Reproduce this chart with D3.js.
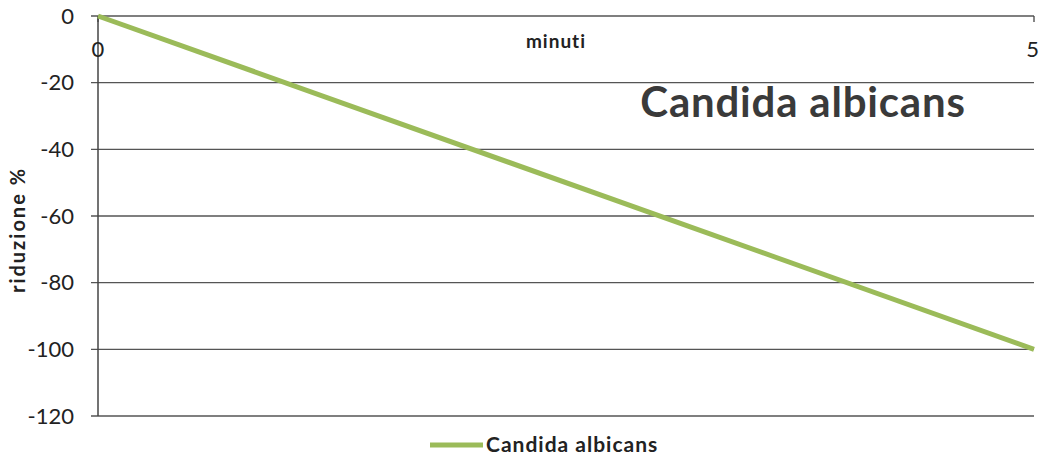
<!DOCTYPE html>
<html>
<head>
<meta charset="utf-8">
<script src="https://cdn.jsdelivr.net/npm/d3@7"></script>
<style>
  body { margin: 0; background: #fff; }
  svg text { font-family: Lato, "Open Sans", sans-serif; }
</style>
</head>
<body>
<div id="chart"></div>
<script>
	var seriesName = "Candida albicans";
	var minutes = [0, 5];
	var reduction = [0, -100];
	var yTicks = [0, -20, -40, -60, -80, -100, -120];
	var xTicks = [0, 5];

	var width = 1042,
		height = 459,
		margin = {top: 16, right: 8, bottom: 43, left: 98};

	var svg = d3.select("#chart").append("svg")
		.attr("width", width)
		.attr("height", height);

	var x = d3.scaleLinear().domain([0, 5]).range([margin.left, width - margin.right]);
	var y = d3.scaleLinear().domain([0, -120]).range([margin.top, height - margin.bottom]);

	// horizontal gridlines with tick stubs on the left
	svg.append("g").selectAll("line")
		.data(yTicks)
		.enter().append("line")
			.attr("x1", margin.left - 7)
			.attr("x2", x(5))
			.attr("y1", function(d) { return y(d); })
			.attr("y2", function(d) { return y(d); })
			.attr("stroke", "#555")
			.attr("stroke-width", 1.3);

	// y axis line
	svg.append("line")
		.attr("x1", x(0)).attr("x2", x(0))
		.attr("y1", y(0)).attr("y2", y(-120))
		.attr("stroke", "#444")
		.attr("stroke-width", 1.5);

	// x tick marks on the 0 line
	svg.append("g").selectAll("line")
		.data(xTicks)
		.enter().append("line")
			.attr("x1", function(d) { return x(d); })
			.attr("x2", function(d) { return x(d); })
			.attr("y1", y(0))
			.attr("y2", y(0) + 6)
			.attr("stroke", "#444")
			.attr("stroke-width", 1.3);

	// y tick labels
	svg.append("g").selectAll("text")
		.data(yTicks)
		.enter().append("text")
			.attr("x", 74)
			.attr("y", function(d) { return y(d); })
			.attr("dy", "0.35em")
			.attr("text-anchor", "end")
			.attr("font-size", 22)
			.attr("fill", "#222")
			.text(function(d) { return d; });

	// x tick labels
	svg.append("g").selectAll("text")
		.data(xTicks)
		.enter().append("text")
			.attr("x", function(d) { return x(d); })
			.attr("y", 57)
			.attr("text-anchor", function(d) { return d === 0 ? "middle" : "end"; })
			.attr("dx", function(d) { return d === 0 ? 0 : 5; })
			.attr("font-size", 22)
			.attr("fill", "#222")
			.text(function(d) { return d; });

	// axis titles
	svg.append("text")
		.attr("x", 556)
		.attr("y", 48)
		.attr("text-anchor", "middle")
		.attr("font-size", 19)
		.attr("font-weight", "bold")
		.attr("letter-spacing", 1)
		.attr("fill", "#222")
		.text("minuti");

	svg.append("text")
		.attr("transform", "translate(25,230) rotate(-90)")
		.attr("text-anchor", "middle")
		.attr("font-size", 20)
		.attr("font-weight", "bold")
		.attr("letter-spacing", 2)
		.attr("fill", "#222")
		.text("riduzione %");

	// chart title
	svg.append("text")
		.attr("x", 803)
		.attr("y", 117)
		.attr("text-anchor", "middle")
		.attr("font-size", 42)
		.attr("font-weight", "bold")
		.attr("letter-spacing", 0.8)
		.attr("fill", "#3a3a3a")
		.text(seriesName);

	// series line
	var pts = minutes.map(function(m, i) { return [m, reduction[i]]; });
	svg.append("path")
		.datum(pts)
		.attr("fill", "none")
		.attr("stroke", "#9bbb59")
		.attr("stroke-width", 5)
		.attr("d", d3.line()
			.x(function(d) { return x(d[0]); })
			.y(function(d) { return y(d[1]); }));

	// legend
	var legend = svg.append("g").attr("transform", "translate(430,445)");
	legend.append("line")
		.attr("x1", 0).attr("x2", 53)
		.attr("y1", 0).attr("y2", 0)
		.attr("stroke", "#9bbb59")
		.attr("stroke-width", 5);
	legend.append("text")
		.attr("x", 56)
		.attr("y", 0)
		.attr("dy", "0.35em")
		.attr("font-size", 21)
		.attr("font-weight", "bold")
		.attr("letter-spacing", 1)
		.attr("fill", "#222")
		.text(seriesName);
</script>
</body>
</html>
